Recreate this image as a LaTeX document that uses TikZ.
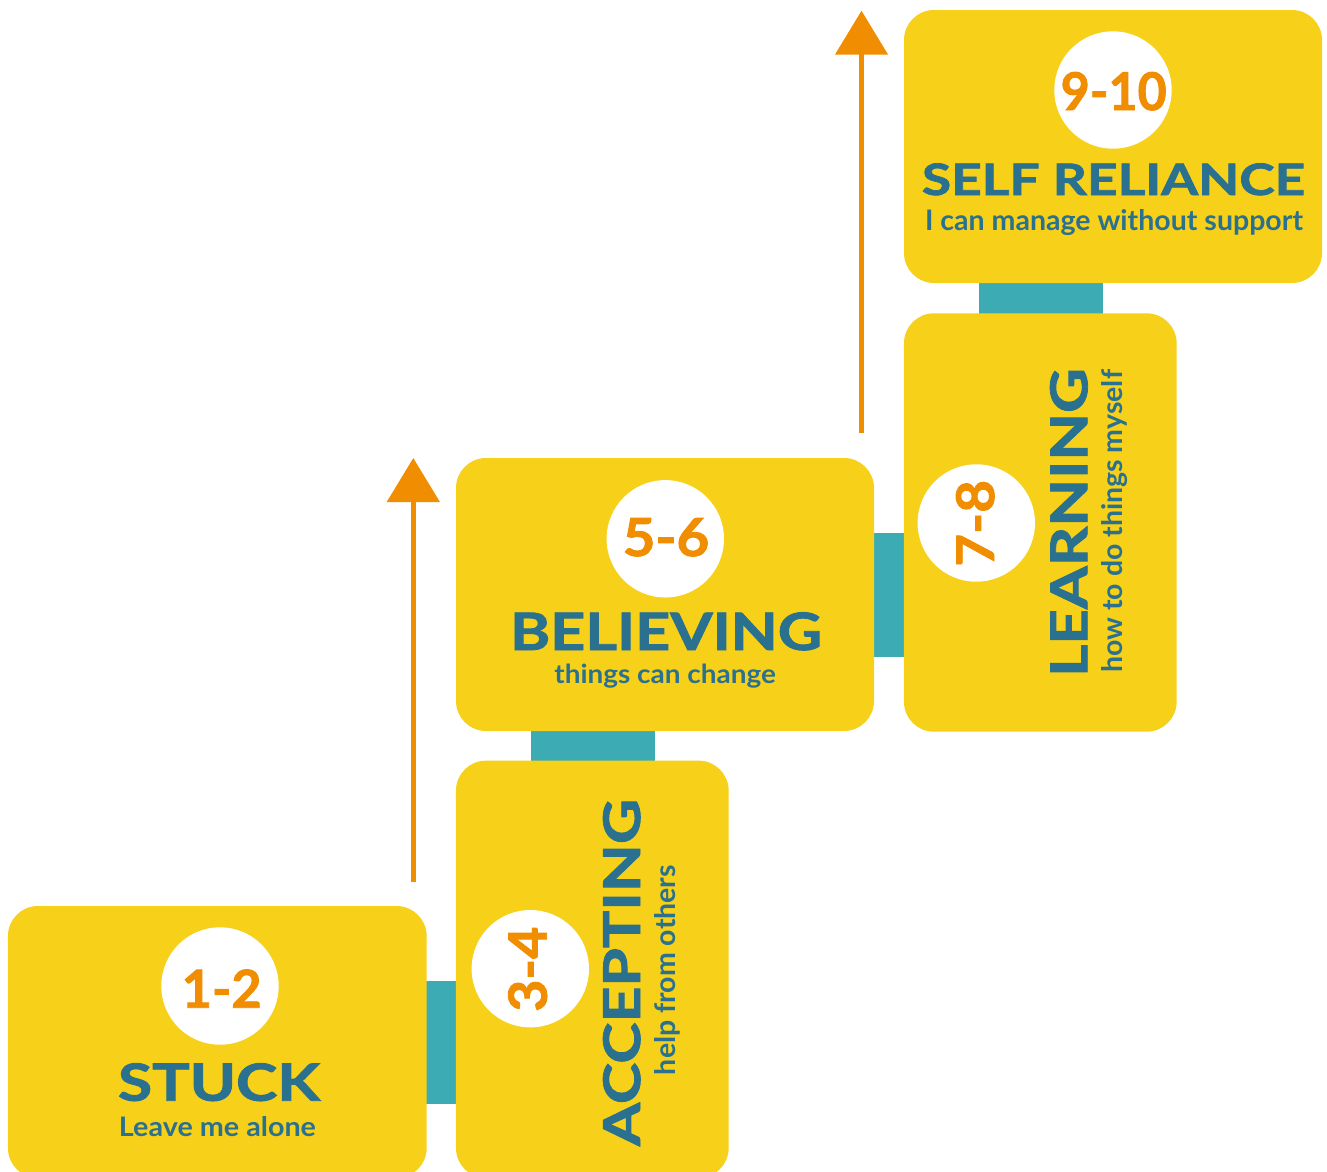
\documentclass[tikz,border=0pt]{standalone}
\usepackage{fontspec}
\usepackage{graphicx}
\setmainfont{Lato}
\newfontfamily\heavyfont{Lato}[BoldFeatures={FakeBold=1.6}]
\usetikzlibrary{arrows.meta,backgrounds}
\definecolor{stepyellow}{HTML}{F7D01A}
\definecolor{linkteal}{HTML}{3CABB3}
\definecolor{inkteal}{HTML}{2A7190}
\definecolor{risecol}{HTML}{F18D00}
% text squeezed to an exact width and height (in pt)
\newcommand{\fitbox}[3]{\resizebox{#1pt}{#2pt}{#3}}

\begin{document}
\begin{tikzpicture}[x=1pt,y=-1pt,
  stepbox/.style={fill=stepyellow, rounded corners=30pt, inner sep=0pt, draw=none},
  badge/.style={circle, fill=white, minimum size=117.4pt, inner sep=0pt},
  numlabel/.style={text=risecol, font=\heavyfont\bfseries, inner sep=0pt, anchor=base},
  title/.style={text=inkteal, font=\heavyfont\bfseries, inner sep=0pt, anchor=base},
  subtitle/.style={text=inkteal, font=\bfseries, inner sep=0pt, anchor=base},
  link/.style={fill=linkteal},
  risearrow/.style={draw=risecol, line width=5pt, -{Triangle[width=52pt,length=44pt]}}
]
\clip (0,0) rectangle (1327,1171);

% steps
\node[stepbox, minimum width=418.7pt, minimum height=272pt]   (b1) at (217.3,1042) {};
\node[stepbox, minimum width=272.7pt, minimum height=417.3pt] (b2) at (592.3,969.3) {};
\node[stepbox, minimum width=418pt,   minimum height=273pt]   (b3) at (665,594.5) {};
\node[stepbox, minimum width=272.7pt, minimum height=418.4pt] (b4) at (1040.3,522.5) {};
\node[stepbox, minimum width=418pt,   minimum height=273pt]   (b5) at (1113,146.5) {};

% links between the steps (tucked a little under each step)
\begin{scope}[on background layer]
  \fill[link] ([xshift=-3pt]b1.east |- 0,980.7) rectangle ([xshift=3pt]b2.west |- 0,1104);
  \fill[link] ([yshift=3pt]b3.south -| 531,0) rectangle ([yshift=-3pt]b2.north -| 655,0);
  \fill[link] ([xshift=-3pt]b3.east |- 0,532.7) rectangle ([xshift=3pt]b4.west |- 0,656.7);
  \fill[link] ([yshift=3pt]b5.south -| 979,0) rectangle ([yshift=-3pt]b4.north -| 1102.7,0);
\end{scope}

% score badges
\node[badge] (c1) at (220,986) {};
\node[badge] (c2) at (530.3,968.7) {};
\node[badge] (c3) at (665.3,538.8) {};
\node[badge] (c4) at (976.3,523) {};
\node[badge] (c5) at (1113,90) {};

\node[numlabel] (n1) at (221.7,1007.7) {\fitbox{80}{38.3}{1-2}};
\node[numlabel, rotate=90] (n2) at (546.7,969.2) {\fitbox{85}{38.5}{3-4}};
\node[numlabel] (n3) at (666,556) {\fitbox{86.6}{38}{5-6}};
\node[numlabel, rotate=90] (n4) at (994,523.3) {\fitbox{86.7}{38}{7-8}};
\node[numlabel] (n5) at (1113.7,110) {\fitbox{106}{38}{9-10}};

% stage names
\node[title] (t1) at (219,1100.7) {\fitbox{202}{37.5}{STUCK}};
\node[subtitle] (s1) at (217.5,1136) {\fitbox{197}{20}{Leave me alone}};

\node[title, rotate=90] (t2) at (640,972.5) {\fitbox{347}{37}{ACCEPTING}};
\node[subtitle, rotate=90] (s2) at (675,970) {\fitbox{210}{21}{help from others}};

\node[title] (t3) at (666,650) {\fitbox{311.7}{37.7}{BELIEVING}};
\node[subtitle] (s3) at (665.2,683.3) {\fitbox{221.7}{19.5}{things can change}};

\node[title, rotate=90] (t4) at (1087.3,522.5) {\fitbox{308.4}{37.3}{LEARNING}};
\node[subtitle, rotate=90] (s4) at (1122.5,521.3) {\fitbox{302.7}{21}{how to do things myself}};

\node[title] (t5) at (1113.5,195) {\fitbox{383}{31.7}{SELF RELIANCE}};
\node[subtitle] (s5) at (1114,230) {\fitbox{378}{21}{I can manage without support}};

% rising arrows
\coordinate (a1from) at (413.3,882);
\coordinate (a1to)   at (413.3,458);
\coordinate (a2from) at (861.5,433);
\coordinate (a2to)   at (861.5,10.7);
\draw[risearrow] (a1from) -- (a1to);
\draw[risearrow] (a2from) -- (a2to);
\end{tikzpicture}
\end{document}
